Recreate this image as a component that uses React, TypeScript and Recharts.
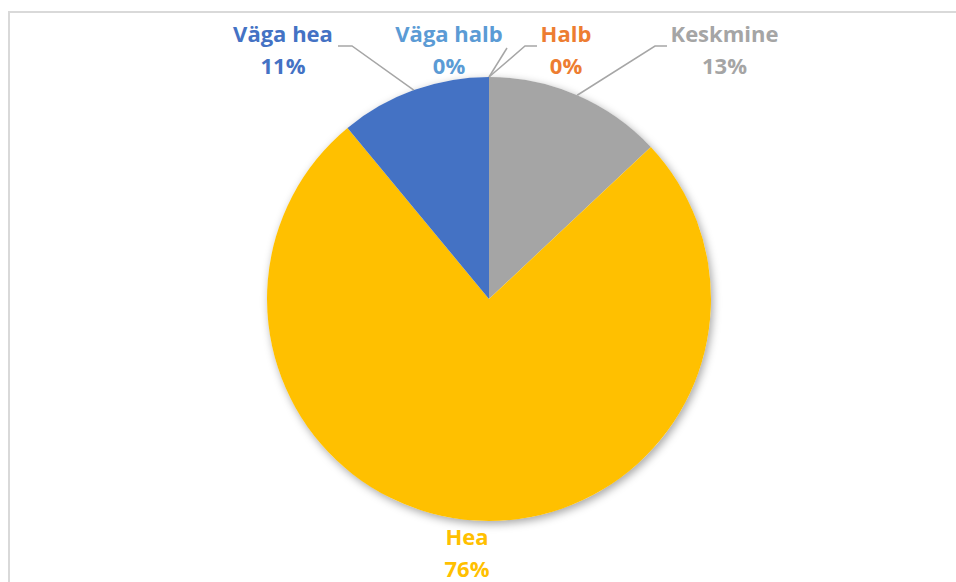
import React from 'react';
import { PieChart, Pie, Cell } from 'recharts';

const categories = ['Halb', 'Keskmine', 'Hea', 'Väga hea', 'Väga halb'];
const values = [0, 13, 76, 11, 0];
const colors = ['#ED7D31', '#A5A5A5', '#FFC000', '#4472C4', '#5B9BD5'];

const data = categories.map((name, i) => ({ name, value: values[i] }));

// label layout relative to pie centre: text centre x, first baseline y, leader line end and elbow
const LABEL_LAYOUT: Record<string, { tx: number; ty: number; ex?: number; ey?: number; hx?: number }> = {
  'Väga hea': { tx: -206, ty: -257, ex: -137, ey: -253, hx: -151 },
  'Väga halb': { tx: -40, ty: -257, ex: 18, ey: -251 },
  Halb: { tx: 77, ty: -257, ex: 36, ey: -253, hx: 48 },
  Keskmine: { tx: 235.5, ty: -257, ex: 166, ey: -253, hx: 178 },
  Hea: { tx: -22, ty: 246 },
};

const W = 956;
const H = 582;
const CX = 489;
const CY = 299;
const R = 222;
const FONT = '"Open Sans", sans-serif';
const RAD = Math.PI / 180;

const renderLabel = (props: any) => {
  const { cx, cy, midAngle, outerRadius, name, percent, index } = props;
  const lay = LABEL_LAYOUT[name];
  if (!lay) return null;
  const color = colors[index];
  const px = cx + outerRadius * Math.cos(-midAngle * RAD);
  const py = cy + outerRadius * Math.sin(-midAngle * RAD);
  let pts = '';
  if (lay.ex !== undefined && lay.ey !== undefined) {
    pts = `${px},${py} ${cx + lay.ex},${cy + lay.ey}`;
    if (lay.hx !== undefined) pts += ` ${cx + lay.hx},${cy + lay.ey}`;
  }
  const tx = cx + lay.tx;
  const ty = cy + lay.ty;
  return (
    <g key={`lbl-${name}`}>
      {pts && <polyline points={pts} fill="none" stroke="#A6A6A6" strokeWidth={1.5} />}
      <text x={tx} y={ty} textAnchor="middle" fill={color} fontFamily={FONT} fontWeight={700} fontSize={22}>
        {name}
      </text>
      <text x={tx} y={ty + 32} textAnchor="middle" fill={color} fontFamily={FONT} fontWeight={700} fontSize={22}>
        {`${Math.round(percent * 100)}%`}
      </text>
    </g>
  );
};

export default function App() {
  return (
    <div style={{ position: 'fixed', left: 0, top: 0, width: W, height: H, overflow: 'hidden', background: '#fff' }}>
      <style>{`.shadow-pie path { filter: drop-shadow(2px 3px 4px rgba(0,0,0,0.35)); }`}</style>
      <div
        style={{
          position: 'absolute',
          left: 8,
          top: 11,
          width: 1000,
          height: 1000,
          border: '2px solid #D9D9D9',
          boxSizing: 'border-box',
        }}
      />
      <div style={{ position: 'absolute', left: 0, top: 0 }}>
        <PieChart width={W} height={H} margin={{ top: 0, right: 0, bottom: 0, left: 0 }}>
          <Pie
            data={[{ name: 'bg', value: 1 }]}
            dataKey="value"
            cx={CX}
            cy={CY}
            outerRadius={R}
            startAngle={90}
            endAngle={-270}
            fill="#FFFFFF"
            stroke="none"
            className="shadow-pie"
            isAnimationActive={false}
            label={false}
            labelLine={false}
          />
          <Pie
            data={data}
            dataKey="value"
            nameKey="name"
            cx={CX}
            cy={CY}
            outerRadius={R}
            startAngle={90}
            endAngle={-270}
            stroke="none"
            isAnimationActive={false}
            label={renderLabel}
            labelLine={false}
          >
            {data.map((d, i) => (
              <Cell key={d.name} fill={colors[i]} />
            ))}
          </Pie>
        </PieChart>
      </div>
    </div>
  );
}
